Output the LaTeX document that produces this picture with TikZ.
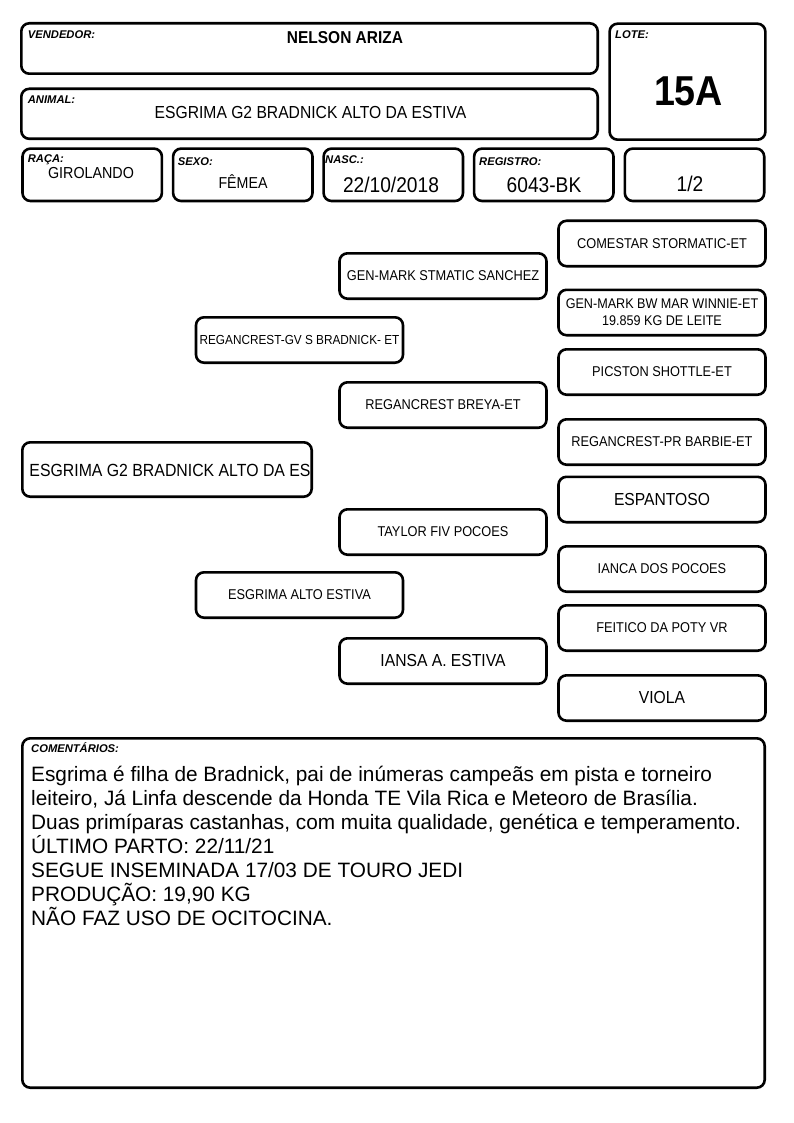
\documentclass[tikz,border=0pt]{standalone}
\usepackage{fontspec}
\setmainfont{Liberation Sans}
\newfontfamily\estreita{Liberation Sans}[FakeStretch=0.9]
\usetikzlibrary{positioning}

\tikzset{
  campo/.style={draw, line width=2.6pt, rounded corners=8pt, inner sep=0pt},
  rotulo/.style={anchor=base west, inner sep=0pt, font=\fontsize{11.2}{13}\selectfont\bfseries\itshape},
  valor/.style={anchor=base, inner sep=0pt},
  ped/.style={campo, minimum width=207pt, minimum height=45.4pt, align=center, font=\estreita\fontsize{14.2}{16}\selectfont},
  pedgrande/.style={ped, font=\estreita\fontsize{17.4}{20}\selectfont},
}

\begin{document}
\begin{tikzpicture}[x=1pt,y=-1pt]
\useasboundingbox (0,0) rectangle (794,1123);

% cabecalho
\node[campo, minimum width=576.4pt, minimum height=50.4pt] (vendedor) at (309.5,48.5) {};
\node[rotulo] (vendedorrot) at (27.7,39) {VENDEDOR:};
\node[valor, font=\estreita\fontsize{17.2}{20}\selectfont\bfseries] (vendedornome) at (345,43.3) {NELSON ARIZA};

\node[campo, minimum width=576.4pt, minimum height=50pt] (animal) at (309.5,113.8) {};
\node[rotulo] (animalrot) at (27.7,103.3) {ANIMAL:};
\node[valor, font=\estreita\fontsize{17.4}{20}\selectfont] (animalnome) at (310.5,119) {ESGRIMA G2 BRADNICK ALTO DA ESTIVA};

\node[campo, minimum width=155.8pt, minimum height=116pt] (lote) at (687.5,81.7) {};
\node[rotulo] (loterot) at (615,39) {LOTE:};
\node[valor, font=\estreita\fontsize{41.8}{46}\selectfont\bfseries] (lotenum) at (688.5,105.7) {15A};

% linha de dados
\node[campo, minimum width=139.4pt, minimum height=52.4pt] (raca) at (92.2,174.8) {};
\node[rotulo] (racarot) at (27.7,162.7) {RAÇA:};
\node[valor, font=\estreita\fontsize{15.9}{18}\selectfont] (racaval) at (91,178.3) {GIROLANDO};

\node[campo, minimum width=139.4pt, minimum height=52.4pt] (sexo) at (242.8,174.8) {};
\node[rotulo] (sexorot) at (177.7,165.7) {SEXO:};
\node[valor, font=\estreita\fontsize{15.8}{18}\selectfont] (sexoval) at (243,189) {FÊMEA};

\node[campo, minimum width=139.4pt, minimum height=52.4pt] (nasc) at (393.3,174.8) {};
\node[rotulo] (nascrot) at (325,164) {NASC.:};
\node[valor, font=\estreita\fontsize{21.3}{24}\selectfont] (nascval) at (391,192.7) {22/10/2018};

\node[campo, minimum width=139.4pt, minimum height=52.4pt] (registro) at (543.8,174.8) {};
\node[rotulo] (registrorot) at (479,165.7) {REGISTRO:};
\node[valor, font=\estreita\fontsize{21.3}{24}\selectfont] (registroval) at (544,192.3) {6043-BK};

\node[campo, minimum width=139.4pt, minimum height=52.4pt] (parte) at (694.5,174.8) {};
\node[valor, font=\estreita\fontsize{21.3}{24}\selectfont] (parteval) at (690,192) {1/2};

% genealogia
\node[campo, minimum width=289.4pt, minimum height=54.4pt] (animalped) at (167,469.5) {};
\node[inner sep=0pt, font=\estreita\fontsize{17.6}{21}\selectfont] (animalpednome) at (170,470) {ESGRIMA G2 BRADNICK ALTO DA ES};

\node[ped, font=\estreita\fontsize{13.1}{15}\selectfont] (pai) at (299.5,340) {REGANCREST-GV S BRADNICK- ET};
\node[ped] (mae) at (299.5,595) {ESGRIMA ALTO ESTIVA};

\node[ped] (avopp) at (443,276) {GEN-MARK STMATIC SANCHEZ};
\node[ped] (avopm) at (443,405) {REGANCREST BREYA-ET};
\node[ped] (avomp) at (443,532) {TAYLOR FIV POCOES};
\node[pedgrande] (avomm) at (443,661) {IANSA A. ESTIVA};

\node[ped] (bisa1) at (662,243.5) {COMESTAR STORMATIC-ET};
\node[ped, font=\estreita\fontsize{14}{17}\selectfont] (bisa2) at (662,312.5) {GEN-MARK BW MAR WINNIE-ET\\19.859 KG DE LEITE};
\node[ped] (bisa3) at (662,372) {PICSTON SHOTTLE-ET};
\node[ped] (bisa4) at (662,442) {REGANCREST-PR BARBIE-ET};
\node[pedgrande] (bisa5) at (662,499.5) {ESPANTOSO};
\node[ped] (bisa6) at (662,569) {IANCA DOS POCOES};
\node[ped] (bisa7) at (662,628) {FEITICO DA POTY VR};
\node[pedgrande] (bisa8) at (662,698) {VIOLA};

% comentarios
\node[campo, minimum width=742.4pt, minimum height=349.4pt] (coment) at (393.5,913) {};
\node[rotulo] (comentrot) at (31,752) {COMENTÁRIOS:};
\node[anchor=north west, inner sep=0pt, align=left, font=\fontsize{20.8}{24}\selectfont] (comenttxt) at (31,765.5)
  {Esgrima é filha de Bradnick, pai de inúmeras campeãs em pista e torneiro\\
   leiteiro, Já Linfa descende da Honda TE Vila Rica e Meteoro de Brasília.\\
   Duas primíparas castanhas, com muita qualidade, genética e temperamento.\\
   ÚLTIMO PARTO: 22/11/21\\
   SEGUE INSEMINADA 17/03 DE TOURO JEDI\\
   PRODUÇÃO: 19,90 KG\\
   NÃO FAZ USO DE OCITOCINA.};

\end{tikzpicture}
\end{document}
